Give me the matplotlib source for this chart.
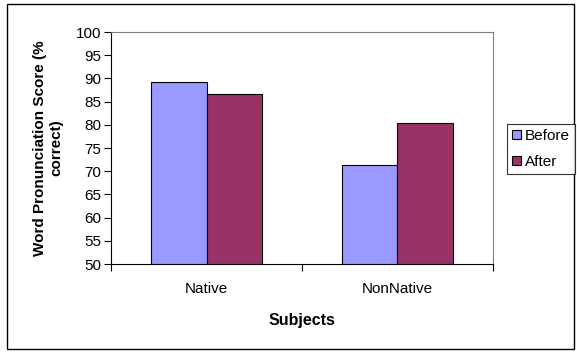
import matplotlib
matplotlib.use('Agg')
import matplotlib.pyplot as plt
import numpy as np
from matplotlib.patches import Rectangle

categories = ['Native', 'NonNative']
before = [89.2, 71.3]
after = [86.6, 80.4]

plt.rcParams['font.family'] = ['Liberation Sans', 'DejaVu Sans']

fig = plt.figure(figsize=(5.77, 3.52), dpi=100)
ax = fig.add_axes([0.1924, 0.25, 0.662, 0.659])

x = np.arange(len(categories))
w = 0.29
ax.bar(x - w / 2, before, w, color='#9999FF', edgecolor='black', linewidth=0.8, label='Before', zorder=2)
ax.bar(x + w / 2, after, w, color='#993366', edgecolor='black', linewidth=0.8, label='After', zorder=2)

ax.set_xlim(-0.5, len(categories) - 0.5)
ax.set_ylim(50, 100)
ax.set_yticks(np.arange(50, 101, 5))
ax.set_xticks(x)
ax.set_xticklabels(categories)
ax.set_xticks(np.arange(-0.5, len(categories), 1), minor=True)
ax.tick_params(axis='x', which='major', length=0, pad=13, labelsize=11)
ax.tick_params(axis='x', which='minor', length=5, width=0.8, direction='out')
ax.tick_params(axis='y', length=5, width=0.8, direction='out', pad=2, labelsize=11)

for s in ['top', 'right']:
    ax.spines[s].set_color('#808080')
    ax.spines[s].set_linewidth(0.8)
for s in ['left', 'bottom']:
    ax.spines[s].set_color('black')
    ax.spines[s].set_linewidth(0.8)

ax.set_xlabel('Subjects', fontweight='bold', fontsize=11.5, labelpad=12)
ax.set_ylabel('Word Pronunciation Score (%\ncorrect)', fontweight='bold', fontsize=11,
              labelpad=9, linespacing=1.25)

leg = fig.legend(loc='center left', bbox_to_anchor=(507 / 577, 1 - 149 / 352),
                 frameon=True, fancybox=False, edgecolor='black', fontsize=11,
                 handlelength=0.55, handleheight=0.55, handletextpad=0.25,
                 borderpad=0.35, borderaxespad=0, labelspacing=0.8)
leg.get_frame().set_linewidth(0.8)
leg._legend_box.sep = 0

fig.patches.append(Rectangle((7 / 577, 1 - 349 / 352), 567 / 577, 345 / 352,
                             transform=fig.transFigure, fill=False,
                             edgecolor='black', linewidth=1))

fig.savefig('out.png', dpi=100)
